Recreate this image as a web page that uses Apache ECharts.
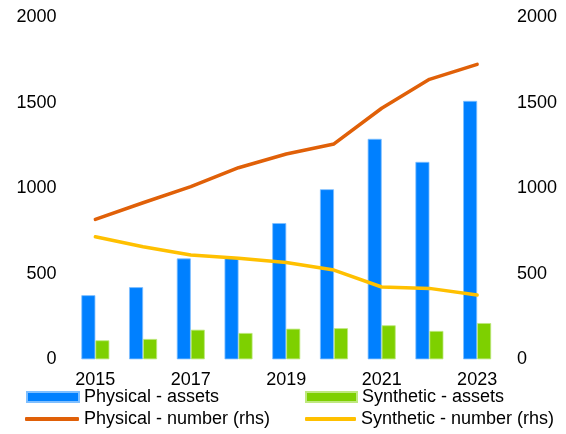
<!DOCTYPE html>
<html>
<head>
<meta charset="utf-8">
<script src="https://cdn.jsdelivr.net/npm/echarts@6/dist/echarts.min.js"></script>
<style>html,body{margin:0;padding:0;background:#fff}#c{width:566px;height:434px}</style>
</head>
<body>
<div id="c"></div>
<script>
var years = ['2015','2016','2017','2018','2019','2020','2021','2022','2023'];
var physAssets = [375, 422, 590, 595, 797, 995, 1290, 1155, 1512];
var synthAssets = [111, 119, 173, 154, 179, 182, 199, 166, 212];
var physNumber = [819, 916, 1010, 1121, 1201, 1260, 1469, 1638, 1726];
var synthNumber = [717, 659, 610, 591, 567, 522, 423, 415, 376];
var yTicks = [0, 500, 1000, 1500, 2000];

var FONT = 'Liberation Sans, Arial, sans-serif';
var chart = echarts.init(document.getElementById('c'), null, {renderer:'canvas'});
var txt = {fontFamily: FONT, fontSize: 18, color: '#000'};
function fmt(v){ return String(v); }
function leg(name, left, top, icon, h, w) {
  return {data:[name], left:left, top:top, icon:icon, itemWidth:w, itemHeight:h, itemGap:0,
    textStyle:Object.assign({}, txt, {padding:[0,0,0,0]}), selectedMode:false, padding:0};
}
chart.setOption({
  animation:false,
  grid:{left:71.5, right:65, top:17.5, bottom:74.7},
  legend:[
    leg('Physical - assets', 26, 388, 'rect', 10, 52),
    leg('Synthetic - assets', 305, 388, 'rect', 10, 51),
    leg('Physical - number (rhs)', 25, 410, 'roundRect', 4, 54),
    leg('Synthetic - number (rhs)', 305, 410, 'roundRect', 4, 51)
  ],
  xAxis:{type:'category', data:years, axisLine:{show:false}, axisTick:{show:false},
    axisLabel:Object.assign({}, txt, {interval:1, margin:12})},
  yAxis:[
    {type:'value', min:yTicks[0], max:yTicks[yTicks.length-1], interval:500, splitLine:{show:false},
     axisLine:{show:false}, axisTick:{show:false}, axisLabel:Object.assign({}, txt, {margin:15, formatter:fmt})},
    {type:'value', min:yTicks[0], max:yTicks[yTicks.length-1], interval:500, splitLine:{show:false},
     axisLine:{show:false}, axisTick:{show:false}, axisLabel:Object.assign({}, txt, {margin:16, formatter:fmt})}
  ],
  series:[
    {name:'Physical - assets', type:'bar', data:physAssets, barWidth:14, barGap:'0%',
     itemStyle:{color:'#0080FF', borderColor:'#7fbfff', borderWidth:0.8}},
    {name:'Synthetic - assets', type:'bar', data:synthAssets, barWidth:14, barGap:'0%',
     itemStyle:{color:'#7ED000', borderColor:'#bfe87f', borderWidth:0.8}},
    {name:'Physical - number (rhs)', type:'line', yAxisIndex:1, data:physNumber, symbol:'none',
     lineStyle:{color:'#E06008', width:3.5, cap:'round', join:'round'}, itemStyle:{color:'#E06008'}},
    {name:'Synthetic - number (rhs)', type:'line', yAxisIndex:1, data:synthNumber, symbol:'none',
     lineStyle:{color:'#FFC000', width:3.5, cap:'round', join:'round'}, itemStyle:{color:'#FFC000'}}
  ]
});
</script>
</body>
</html>
